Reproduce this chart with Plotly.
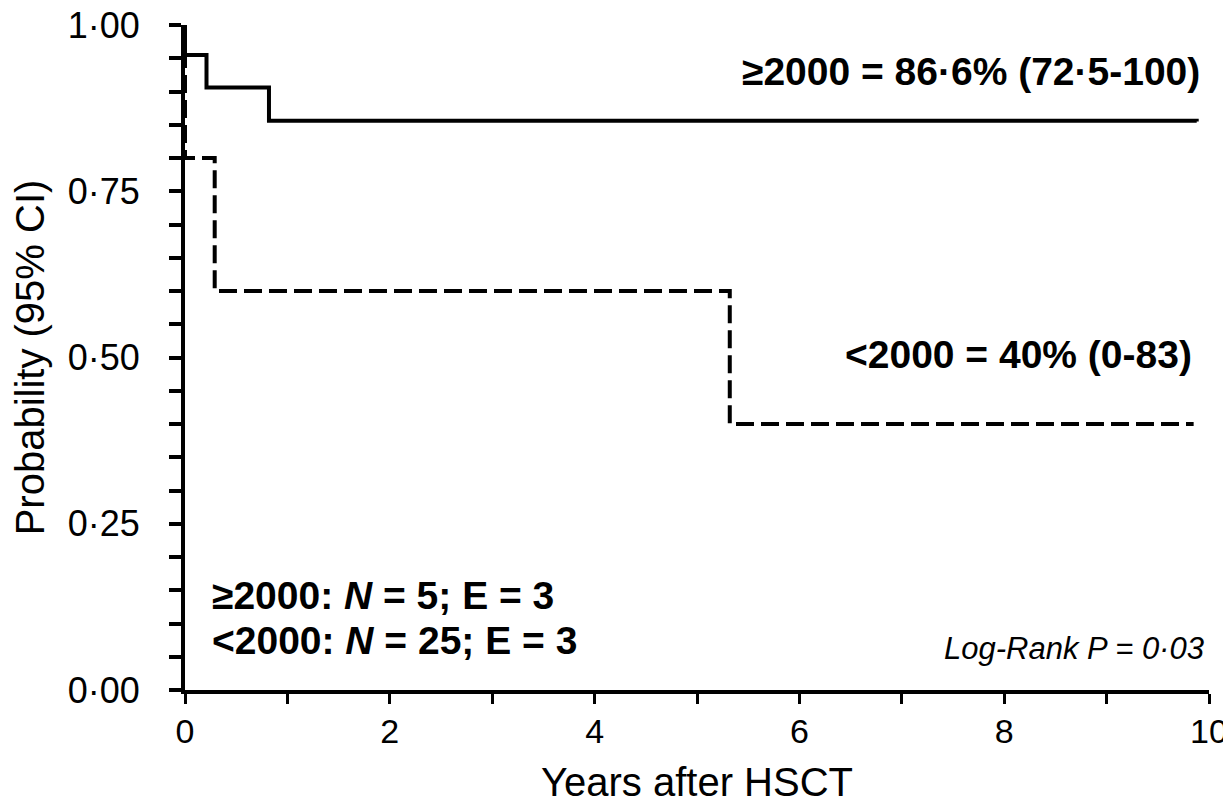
import plotly.graph_objects as go

# Kaplan-Meier step data (years, probability)
hi_years = [0.0, 0.0, 0.21, 0.82, 9.88]
hi_prob = [1.0, 0.955, 0.906, 0.856, 0.855]
lo_years = [0.0, 0.0, 0.29, 5.32, 9.85]
lo_prob = [1.0, 0.80, 0.60, 0.40, 0.40]

y_tick_vals = [round(i * 0.05, 2) for i in range(21)]
y_tick_text = [f"{v:.2f}".replace(".", "·") if abs(v * 4 - round(v * 4)) < 1e-9 else "" for v in y_tick_vals]
x_tick_vals = list(range(11))
x_tick_text = [str(v) if v % 2 == 0 else "" for v in x_tick_vals]

FONT = "Liberation Sans, Arial, sans-serif"

fig = go.Figure()
fig.add_trace(go.Scatter(x=hi_years, y=hi_prob, mode="lines", line_shape="hv",
                         line=dict(color="black", width=4), showlegend=False))
fig.add_trace(go.Scatter(x=lo_years, y=lo_prob, mode="lines", line_shape="hv",
                         line=dict(color="black", width=4, dash="18px,7px"), showlegend=False))

ann = [
    dict(x=9.93, y=0.93, text="<b>≥2000 = 86·6% (72·5-100)</b>", xanchor="right", yanchor="middle",
         font=dict(size=39)),
    dict(x=9.85, y=0.505, text="<b><2000 = 40% (0-83)</b>", xanchor="right", yanchor="middle",
         font=dict(size=39)),
    dict(x=0.24, y=0.142, text="<b>≥2000: <i>N</i> = 5; E = 3</b>", xanchor="left", yanchor="middle",
         font=dict(size=39)),
    dict(x=0.24, y=0.075, text="<b><2000: <i>N</i> = 25; E = 3</b>", xanchor="left", yanchor="middle",
         font=dict(size=39)),
    dict(x=9.97, y=0.063, text="<i>Log-Rank P = 0·03</i>", xanchor="right", yanchor="middle",
         font=dict(size=31)),
]
for a in ann:
    a.update(xref="x", yref="y", showarrow=False)
    a["font"].update(family=FONT, color="black")

fig.update_layout(
    width=1223, height=796,
    margin=dict(l=177, r=22, t=17, b=114),
    paper_bgcolor="white", plot_bgcolor="white",
    font=dict(family=FONT, color="black", size=38),
    annotations=ann,
    xaxis=dict(range=[0, 10], tickvals=x_tick_vals, ticktext=x_tick_text,
               ticks="outside", ticklen=10, tickwidth=3, tickcolor="black",
               showline=True, linecolor="black", linewidth=4, showgrid=False, zeroline=False,
               tickfont=dict(size=34), ticklabeloverflow="allow", automargin=False,
               ticklabelstandoff=-2,
               title=dict(text="Years after HSCT", font=dict(size=40), standoff=20)),
    yaxis=dict(range=[0, 1], tickvals=y_tick_vals, ticktext=y_tick_text,
               ticks="outside", ticklen=12, tickwidth=4, tickcolor="black",
               showline=True, linecolor="black", linewidth=4, showgrid=False, zeroline=False,
               tickfont=dict(size=36), ticklabeloverflow="allow", automargin=False,
               ticklabelstandoff=22,
               title=dict(text="Probability (95% CI)", font=dict(size=40), standoff=16)),
)

fig.write_html("out.html")
